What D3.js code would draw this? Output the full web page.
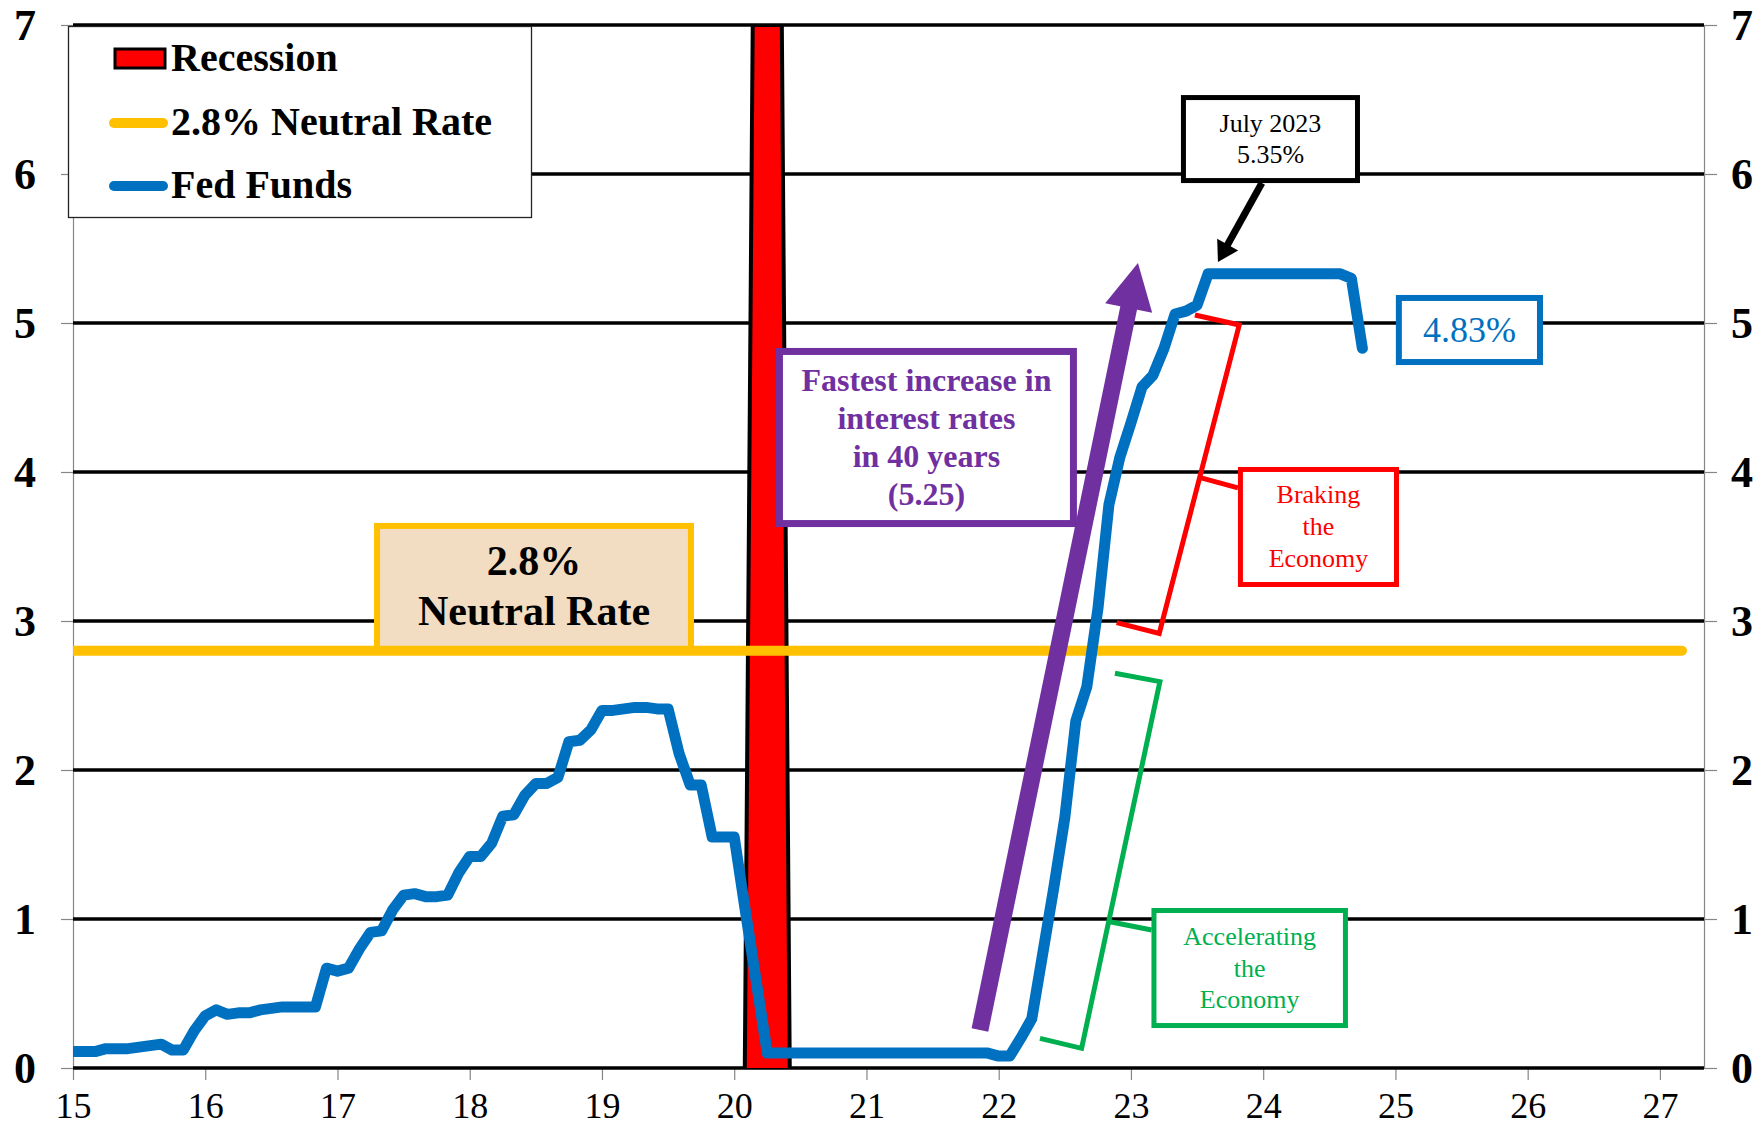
<!DOCTYPE html>
<html>
<head>
<meta charset="utf-8">
<script src="https://cdn.jsdelivr.net/npm/d3@7"></script>
<style>
  body { margin: 0; background: #fff; }
  svg { display: block; }
  text { font-family: "Liberation Serif", "Times New Roman", serif; }
</style>
</head>
<body>
<svg id="chart" width="1755" height="1128"></svg>
<script>
// ---- data ----------------------------------------------------------------
const yearTicks = [15, 16, 17, 18, 19, 20, 21, 22, 23, 24, 25, 26, 27];
const yearTickLabels = ["15", "16", "17", "18", "19", "20", "21", "22", "23", "24", "25", "26", "27"];
const rateTicks = [0, 1, 2, 3, 4, 5, 6, 7];

// Effective fed funds rate, monthly from Jan 2015 to Oct 2024 (percent)
const fedFundsFirstYear = 15;
const fedFunds = [
  0.11, 0.11, 0.11, 0.13, 0.13, 0.13, 0.14, 0.15, 0.16, 0.12, 0.12, 0.25, // 2015
  0.35, 0.39, 0.36, 0.37, 0.37, 0.39, 0.40, 0.41, 0.41, 0.41, 0.41, 0.67, // 2016
  0.65, 0.67, 0.80, 0.91, 0.92, 1.06, 1.16, 1.17, 1.15, 1.15, 1.16, 1.31, // 2017
  1.42, 1.42, 1.51, 1.69, 1.70, 1.83, 1.91, 1.91, 1.95, 2.19, 2.20, 2.27, // 2018
  2.40, 2.40, 2.41, 2.42, 2.42, 2.41, 2.41, 2.11, 1.90, 1.90, 1.55, 1.55, // 2019
  1.55, 1.06, 0.58, 0.10, 0.10, 0.10, 0.10, 0.10, 0.10, 0.10, 0.10, 0.10, // 2020
  0.10, 0.10, 0.10, 0.10, 0.10, 0.10, 0.10, 0.10, 0.10, 0.10, 0.10, 0.10, // 2021
  0.08, 0.08, 0.20, 0.33, 0.77, 1.21, 1.68, 2.33, 2.56, 3.08, 3.78, 4.10, // 2022
  4.33, 4.57, 4.65, 4.83, 5.06, 5.08, 5.12, 5.33, 5.33, 5.33, 5.33, 5.33, // 2023
  5.33, 5.33, 5.33, 5.33, 5.33, 5.33, 5.33, 5.33, 5.30, 4.83              // 2024
];

const neutralRate = 2.8;
const neutralSpan = [15, 27 + 2 / 12];

// Recession band (2020), outline points as [year, level]
const recessionYears = [20.08, 20.14, 20.36, 20.42];
const recessionLevels = [0, 7, 7, 0];

const legendLabels = ["Recession", "2.8% Neutral Rate", "Fed Funds"];
const neutralBoxLines = ["2.8%", "Neutral Rate"];
const fastestLines = ["Fastest increase in", "interest rates", "in 40 years", "(5.25)"];
const peakLines = ["July 2023", "5.35%"];
const latestLines = ["4.83%"];
const brakingLines = ["Braking", "the", "Economy"];
const acceleratingLines = ["Accelerating", "the", "Economy"];

// ---- colours ------------------------------------------------------------
const BLUE = "#0070C0", YELLOW = "#FFC000", RED = "#FF0000",
      GREEN = "#00B050", PURPLE = "#7030A0", TAN = "#F2DCC2", AXIS_GREY = "#868686";

// ---- layout -------------------------------------------------------------
const plot = { left: 73, right: 1704, top: 25, bottom: 1068 };
const svg = d3.select("#chart");

const x = d3.scaleLinear().domain([15, 27 + 4 / 12]).range([plot.left, plot.right]);
const y = d3.scaleLinear().domain([0, 7]).range([plot.bottom, plot.top]);

svg.append("defs").append("clipPath").attr("id", "plot-clip")
  .append("rect")
  .attr("x", plot.left).attr("y", plot.top)
  .attr("width", plot.right - plot.left).attr("height", plot.bottom - plot.top);

// ---- axes ---------------------------------------------------------------
const leftAxis = d3.axisLeft(y).tickValues(rateTicks).tickFormat(d3.format("d"))
  .tickSize(12).tickSizeOuter(0).tickPadding(25);
const rightAxis = d3.axisRight(y).tickValues(rateTicks).tickFormat(d3.format("d"))
  .tickSize(13).tickSizeOuter(0).tickPadding(14);
const bottomAxis = d3.axisBottom(x).tickValues(yearTicks)
  .tickFormat((d, i) => yearTickLabels[i]).tickSize(12).tickSizeOuter(0).tickPadding(14);

function styleAxis(g, size, weight) {
  g.select(".domain").attr("stroke", AXIS_GREY).attr("stroke-width", 1.2);
  g.selectAll(".tick line").attr("stroke", AXIS_GREY).attr("stroke-width", 1.2);
  g.selectAll(".tick text")
    .attr("fill", "#000")
    .style("font-family", '"Liberation Serif", "Times New Roman", serif')
    .style("font-size", size + "px")
    .style("font-weight", weight);
}

svg.append("g").attr("transform", `translate(${plot.left},0)`).call(leftAxis)
  .call(g => styleAxis(g, 44, "bold"));
svg.append("g").attr("transform", `translate(${plot.right},0)`).call(rightAxis)
  .call(g => styleAxis(g, 44, "bold"))
  .call(g => g.selectAll(".tick text").attr("text-anchor", "start"));
svg.append("g").attr("transform", `translate(0,${plot.bottom})`).call(bottomAxis)
  .call(g => styleAxis(g, 36, "normal"))
  .call(g => g.selectAll(".tick text").attr("dy", "0.66em"));

// ---- horizontal gridlines ----------------------------------------------
svg.append("g").selectAll("line").data(rateTicks).join("line")
  .attr("x1", plot.left).attr("x2", plot.right)
  .attr("y1", d => y(d)).attr("y2", d => y(d))
  .attr("stroke", "#000").attr("stroke-width", 3.4);

// ---- recession band -----------------------------------------------------
const recessionPts = recessionYears.map((yr, i) => [yr, recessionLevels[i]]);
svg.append("path")
  .datum(recessionPts)
  .attr("clip-path", "url(#plot-clip)")
  .attr("d", d3.line().x(d => x(d[0])).y(d => y(d[1])))
  .attr("fill", RED).attr("stroke", "#000").attr("stroke-width", 4)
  .attr("stroke-linejoin", "miter");

// ---- annotation helpers -------------------------------------------------
function box(x0, x1, yTop, yBot, stroke, width, fill) {
  return svg.append("rect")
    .attr("x", x(x0)).attr("y", y(yTop))
    .attr("width", x(x1) - x(x0)).attr("height", y(yBot) - y(yTop))
    .attr("fill", fill || "#fff").attr("stroke", stroke).attr("stroke-width", width);
}
function boxText(lines, x0, x1, yTop, firstOffset, step, opts) {
  const cx = (x(x0) + x(x1)) / 2;
  svg.append("g").selectAll("text").data(lines).join("text")
    .attr("x", cx).attr("y", (d, i) => y(yTop) + firstOffset + i * step)
    .attr("text-anchor", "middle")
    .attr("fill", opts.color)
    .style("font-size", opts.size + "px")
    .style("font-weight", opts.weight || "normal")
    .text(d => d);
}
function arrow(from, to, width, headLen, headHalf, color) {
  const x1 = x(from[0]), y1 = y(from[1]), x2 = x(to[0]), y2 = y(to[1]);
  const len = Math.hypot(x2 - x1, y2 - y1);
  const ux = (x2 - x1) / len, uy = (y2 - y1) / len;
  const bx = x2 - ux * headLen, by = y2 - uy * headLen;
  svg.append("line")
    .attr("x1", x1).attr("y1", y1).attr("x2", bx + ux * 2).attr("y2", by + uy * 2)
    .attr("stroke", color).attr("stroke-width", width);
  svg.append("path")
    .attr("d", `M${x2},${y2} L${bx - uy * headHalf},${by + ux * headHalf} L${bx + uy * headHalf},${by - ux * headHalf} Z`)
    .attr("fill", color);
}
function polyline(pts, color, width) {
  svg.append("path")
    .datum(pts)
    .attr("d", d3.line().x(d => x(d[0])).y(d => y(d[1])))
    .attr("fill", "none").attr("stroke", color).attr("stroke-width", width)
    .attr("stroke-linejoin", "miter");
}

// ---- neutral-rate callout box (sits on the neutral line) -----------------
box(17.299, 19.673, 3.638, neutralRate, YELLOW, 6, TAN);
boxText(neutralBoxLines, 17.299, 19.673, 3.638, 49, 50, { color: "#000", size: 42, weight: "bold" });

// ---- "fastest increase" box -----------------------------------------------
box(20.342, 22.565, 4.809, 3.654, PURPLE, 7);
boxText(fastestLines, 20.342, 22.565, 4.809, 40, 37.7, { color: PURPLE, size: 32, weight: "bold" });

// ---- neutral rate line ----------------------------------------------------
svg.append("line")
  .attr("x1", x(neutralSpan[0])).attr("x2", x(neutralSpan[1]))
  .attr("y1", y(neutralRate)).attr("y2", y(neutralRate))
  .attr("stroke", YELLOW).attr("stroke-width", 10).attr("stroke-linecap", "round")
  .attr("clip-path", "url(#plot-clip)");

// ---- purple arrow ---------------------------------------------------------
arrow([21.858, 0.255], [23.053, 5.403], 17, 46, 24, PURPLE);

// ---- fed funds line -------------------------------------------------------
const fedPts = fedFunds.map((v, i) => [fedFundsFirstYear + i / 12, v]);
svg.append("path")
  .datum(fedPts)
  .attr("clip-path", "url(#plot-clip)")
  .attr("d", d3.line().x(d => x(d[0])).y(d => y(d[1])))
  .attr("fill", "none").attr("stroke", BLUE).attr("stroke-width", 11)
  .attr("stroke-linejoin", "round").attr("stroke-linecap", "round");

// ---- brackets ---------------------------------------------------------------
polyline([[23.484, 5.054], [23.819, 4.987], [23.214, 2.917], [22.892, 2.989]], RED, 5);
polyline([[23.517, 3.964], [23.809, 3.893]], RED, 5);
polyline([[22.879, 2.649], [23.219, 2.593], [22.627, 0.132], [22.312, 0.199]], GREEN, 5);
polyline([[22.841, 0.982], [23.156, 0.926]], GREEN, 5);

box(23.828, 25.008, 4.017, 3.245, RED, 5);
boxText(brakingLines, 23.828, 25.008, 4.017, 34, 32, { color: RED, size: 26 });
box(23.174, 24.622, 1.057, 0.285, GREEN, 5);
boxText(acceleratingLines, 23.174, 24.622, 1.057, 34.5, 31.5, { color: GREEN, size: 26 });

// ---- peak callout ---------------------------------------------------------------
box(23.397, 24.713, 6.513, 5.956, "#000", 5);
boxText(peakLines, 23.397, 24.713, 6.513, 34.5, 31, { color: "#000", size: 26 });
arrow([23.990, 5.940], [23.658, 5.409], 7, 20, 12, "#000");

// ---- latest value box -------------------------------------------------------------
box(25.026, 26.093, 5.168, 4.738, BLUE, 6);
boxText(latestLines, 25.026, 26.093, 5.168, 44, 0, { color: BLUE, size: 36 });

// ---- legend ------------------------------------------------------------------------
const legend = svg.append("g");
legend.append("rect")
  .attr("x", 68.5).attr("y", 26.5).attr("width", 463).attr("height", 191)
  .attr("fill", "#fff").attr("stroke", "#222").attr("stroke-width", 1.3);
legend.append("rect")
  .attr("x", 115).attr("y", 49).attr("width", 50).attr("height", 19)
  .attr("fill", RED).attr("stroke", "#000").attr("stroke-width", 3);
legend.append("line")
  .attr("x1", 114).attr("x2", 163).attr("y1", 123).attr("y2", 123)
  .attr("stroke", YELLOW).attr("stroke-width", 10).attr("stroke-linecap", "round");
legend.append("line")
  .attr("x1", 114).attr("x2", 163).attr("y1", 186).attr("y2", 186)
  .attr("stroke", BLUE).attr("stroke-width", 10).attr("stroke-linecap", "round");
legend.selectAll("text.lbl").data(legendLabels).join("text")
  .attr("class", "lbl")
  .attr("x", 171).attr("y", (d, i) => [71, 135, 198][i])
  .attr("fill", "#000")
  .style("font-size", "40px").style("font-weight", "bold")
  .text(d => d);
</script>
</body>
</html>
